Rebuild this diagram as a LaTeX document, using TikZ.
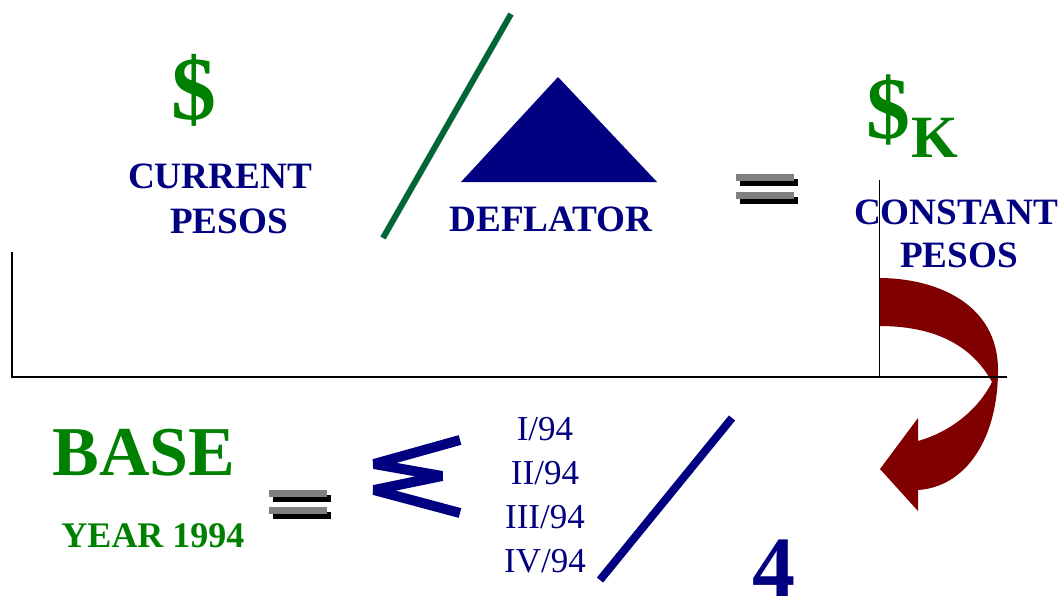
\documentclass[tikz,border=0pt]{standalone}
\usepackage{fontspec}
\setmainfont{Liberation Serif}
\definecolor{dnavy}{HTML}{000080}
\definecolor{dgreen}{HTML}{008000}
\definecolor{slashgreen}{HTML}{006633}
\definecolor{dred}{HTML}{800000}
\newcommand{\fsz}[1]{\fontsize{#1}{1.2\dimexpr#1pt\relax}\selectfont}

\begin{document}
\begin{tikzpicture}[x=1pt,y=-1pt,
  lbl/.style={inner sep=0pt,anchor=base,text=dnavy,font=\bfseries\fsz{37.2}},
  grn/.style={inner sep=0pt,anchor=base,text=dgreen,font=\bfseries\fsz{#1}},
  qtr/.style={inner sep=0pt,anchor=base,text=dnavy,font=\fsz{35}},
  ax/.style={line width=2.3pt,line cap=rect}]
\useasboundingbox (0,0) rectangle (1064,599);
% top row: current / deflator = constant
\node[grn=90] (dollar) at (194,120) {\$};
\node[lbl] (current) at (220,188) {CURRENT};
\node[lbl] (curpesos) at (229,233) {PESOS};
\draw[slashgreen,line width=6pt] (383,238) -- (511,14);
\fill[dnavy] (558,77) -- (657,182) -- (461,182) -- cycle;
\node[lbl] (deflator) at (551,231) {DEFLATOR};
\node[grn=88] (dollark) at (888,138) {\$};
\node[grn=60] (ksub) at (935,157) {K};
\node[lbl] (constant) at (956,224) {CONSTANT};
\node[lbl] (constpesos) at (959,267) {PESOS};
% equal signs
\foreach \ex/\ey in {736/174,736/192,269/490,269/507}{
  \fill[black] (\ex+4,\ey+5) rectangle ++(58,7);
  \fill[gray] (\ex,\ey) rectangle ++(58,7);
}
% curved arrow
\fill[dred] (879,278) .. controls (935,278) and (998,303) .. (998,370)
  .. controls (998,440) and (965,487) .. (918,490) -- (918,511) -- (880,469)
  -- (918,418) -- (918,441) .. controls (950,432) and (978,410) .. (992,382)
  .. controls (970,342) and (930,326) .. (879,326) -- cycle;
% axes
\draw[line width=0.8pt] (879,180) -- (879,378);
\draw[ax] (12,253) -- (12,377) -- (1006,377);
% bottom row: base year
\node[grn=70] (base) at (144,475) {BASE};
\node[grn=36] (baseyear) at (153,547) {YEAR 1994};
\draw[dnavy,line width=10pt,line join=bevel] (460,440) -- (374,464) -- (442,476) -- (374,490) -- (460,513);
\foreach \q [count=\i] in {I,II,III,IV}
  \node[qtr] (q\i) at (545,{440+44*(\i-1)}) {\q/94};
\draw[dnavy,line width=8pt] (600,580) -- (732,418);
\node[inner sep=0pt,anchor=base,text depth=0pt,text=dnavy,font=\bfseries\fsz{86}] (four) at (774,596) {4};
\end{tikzpicture}
\end{document}
